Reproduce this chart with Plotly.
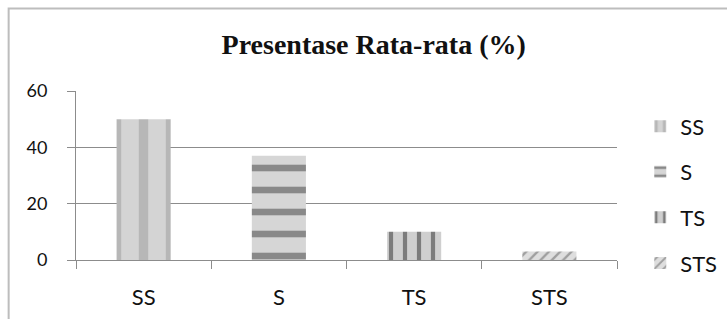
import plotly.graph_objects as go

categories = ["SS", "S", "TS", "STS"]
values = [50, 37, 10, 3]
y_ticks = [0, 20, 40, 60]
title_text = "Presentase Rata-rata (%)"

styles = {
    "SS": dict(shape="|", bgcolor="#d4d4d4", fgcolor="#9a9a9a", size=27, solidity=0.35),
    "S": dict(shape="-", bgcolor="#d6d6d6", fgcolor="#3c3c3c", size=22, solidity=0.3),
    "TS": dict(shape="|", bgcolor="#cfcfcf", fgcolor="#2a2a2a", size=14, solidity=0.3),
    "STS": dict(shape="/", bgcolor="#dedede", fgcolor="#606060", size=8, solidity=0.3),
}

fig = go.Figure()
for cat, val in zip(categories, values):
    fig.add_trace(go.Bar(
        x=[cat], y=[val], name=cat, legendgroup=cat,
        width=0.4,
        marker=dict(color=styles[cat]["bgcolor"], pattern=styles[cat], line=dict(width=0)),
    ))

fig.update_layout(
    width=727, height=319,
    margin=dict(l=76, r=110, t=91, b=59, autoexpand=False),
    paper_bgcolor="white", plot_bgcolor="white",
    showlegend=True, barmode="overlay",
    title=dict(text="<b>" + title_text + "</b>", x=0.514, xanchor="center", y=0.86, yanchor="middle",
               font=dict(family="Liberation Serif", size=28, color="#111111")),
    legend=dict(x=1.043, xanchor="left", y=0.915, yanchor="top",
                font=dict(family="Lato", size=22, color="#111111"),
                tracegroupgap=14, itemwidth=30, bgcolor="rgba(0,0,0,0)",
                maxheight=300),
    font=dict(family="Lato", size=22, color="#111111"),
)
fig.update_xaxes(
    categoryorder="array", categoryarray=categories,
    showline=True, linecolor="#8c8c8c", linewidth=1,
    ticks="outside", tickson="boundaries", ticklen=8, tickcolor="#8c8c8c",
    ticklabelstandoff=18, showgrid=False,
    tickfont=dict(family="Lato", size=22, color="#111111"),
)
fig.update_yaxes(
    range=[0, 60], tickvals=y_ticks,
    showline=True, linecolor="#8c8c8c", linewidth=1,
    ticks="outside", ticklen=8, tickcolor="#8c8c8c",
    showgrid=True, gridcolor="#8c8c8c", gridwidth=1,
    ticklabelstandoff=16, zeroline=False,
    tickfont=dict(family="Lato", size=18, color="#111111"),
)
fig.add_shape(type="rect", xref="paper", yref="paper",
              x0=-0.1245, x1=1.5, y0=-1.0, y1=1.488,
              line=dict(color="#bdbdbd", width=2), fillcolor="rgba(0,0,0,0)", layer="below")

fig.write_html("out.html", config={"displayModeBar": False},
               post_script="document.body.style.margin='0';")
